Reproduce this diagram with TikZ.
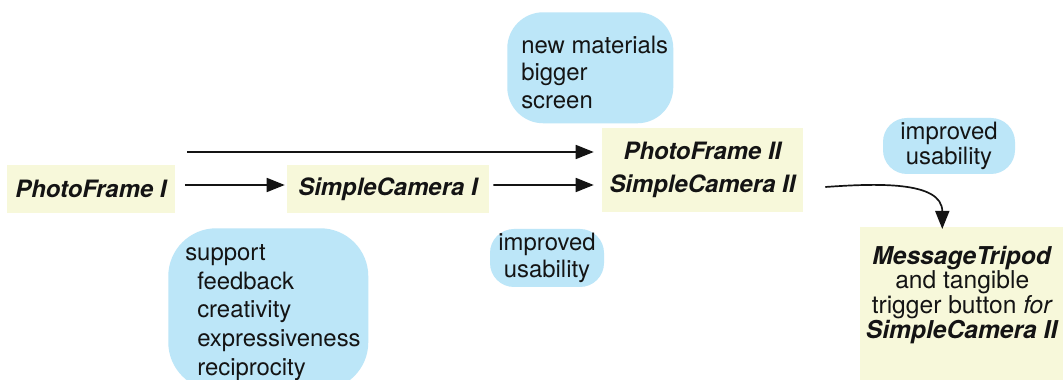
\documentclass[tikz,border=0pt]{standalone}
\usepackage{fontspec}
\setmainfont{TeX Gyre Heros}
\usetikzlibrary{arrows.meta,calc}
\definecolor{boxF}{HTML}{F7F8DA}
\definecolor{noteF}{HTML}{BCE6F8}
\definecolor{ink}{HTML}{141414}
\tikzset{
  prod/.style={fill=boxF, align=center, inner sep=2pt, text=ink,
               font=\fontsize{17}{23.4}\selectfont\bfseries\itshape},
  note/.style={fill=noteF, align=left, inner sep=0pt, text=ink,
               font=\fontsize{17}{19.5}\selectfont},
  flow/.style={-{Triangle[length=4.5mm,width=3.5mm]}, line width=1.2pt, draw=ink},
}
\newcommand{\aimitem}[1]{\hspace*{0.725cm}#1}

\begin{document}
\begin{tikzpicture}
  \useasboundingbox[fill=white] (0,0) rectangle (26.575,9.5);

  % ---------------------------------------------------------- the products
  \node[prod, minimum width=4.175cm, minimum height=1.2cm] (pf1)
    at (2.275,4.775) {PhotoFrame I};
  \node[prod, minimum width=5.05cm, minimum height=1.2cm] (sc1)
    at (9.7,4.775) {SimpleCamera I};
  \node[prod, minimum width=5.025cm, minimum height=2.1cm] (pf2)
    at (17.5625,5.25) {PhotoFrame II\\ SimpleCamera II};
  \node[prod, anchor=north west, inner sep=0pt, font=\fontsize{17.5}{17.5}\selectfont]
    (mt) at (21.5,3.825)
    {\parbox[t][4.2cm][t]{5.1cm}{\centering\rule{0pt}{0.925cm}%
      \textbf{\textit{MessageTripod}}\\ and tangible\\
      trigger button \textit{for}\\ \textbf{\textit{SimpleCamera II}}}};

  % ---------------------------------------------------------- the notes
  \node[note, rounded corners=0.9cm, anchor=north west] (mat) at (12.675,9.2)
    {\parbox[t][2.775cm][t]{4.15cm}{\raggedright\hspace*{0.35cm}\rule{0pt}{1.025cm}new materials\\
      \hspace*{0.35cm}bigger\\ \hspace*{0.35cm}screen}};
  \node[note, rounded corners=0.6cm, align=center, minimum width=3.3cm,
        minimum height=1.4cm, font=\fontsize{17}{17.5}\selectfont] (use2)
    at (23.725,5.85) {improved\\ usability};
  \node[note, rounded corners=0.6cm, align=center, minimum width=2.85cm,
        minimum height=1.45cm, font=\fontsize{17}{19}\selectfont] (use1)
    at (13.675,3.05) {improved\\ usability};
  \node[note, rounded corners=1.2cm, anchor=north west,
        font=\fontsize{17}{20.5}\selectfont] (sup) at (4.2,3.8)
    {\parbox[t][4.05cm][t]{5cm}{\raggedright\hspace*{0.425cm}\rule{0pt}{0.8cm}support\\
      \aimitem{feedback}\\ \aimitem{creativity}\\
      \aimitem{expressiveness}\\ \aimitem{reciprocity}}};

  % ---------------------------------------------------------- the arrows
  \coordinate (fork) at (4.675,5.7);
  \draw[flow, shorten >=0.2cm] (fork) -- (fork -| pf2.west);
  \draw[flow, shorten >=0.05cm] ([xshift=0.25cm,yshift=0.1cm]pf1.east)
    -- ([yshift=0.1cm]sc1.west);
  \draw[flow, shorten >=0.2cm] ([xshift=0.1cm,yshift=0.1cm]sc1.east)
    -- ([yshift=-0.375cm]pf2.west);
  \draw[flow] ([xshift=0.55cm,yshift=-0.425cm]pf2.east)
    to[out=4, in=90] ([xshift=-0.5cm,yshift=-0.05cm]mt.north);
\end{tikzpicture}
\end{document}
